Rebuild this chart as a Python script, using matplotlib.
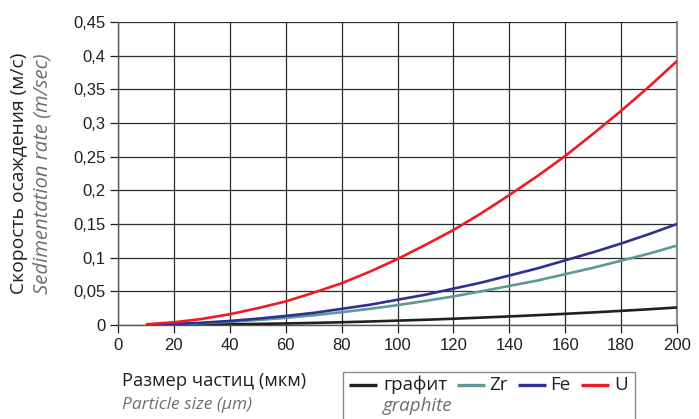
import matplotlib
matplotlib.use("Agg")
import matplotlib.pyplot as plt
from matplotlib.lines import Line2D
from matplotlib.patches import Rectangle
from matplotlib.ticker import FuncFormatter

size_um = [10, 20, 30, 40, 50, 60, 70, 80, 90, 100, 110, 120, 130, 140, 150, 160, 170, 180, 190, 200]
graphite = [0.0001, 0.0003, 0.0006, 0.001, 0.0016, 0.0023, 0.0031, 0.0041, 0.0052, 0.0065,
            0.0078, 0.0093, 0.011, 0.0127, 0.0146, 0.0166, 0.0187, 0.021, 0.0234, 0.026]
zr = [0.0003, 0.0012, 0.0027, 0.0047, 0.0074, 0.0106, 0.0145, 0.019, 0.024, 0.0295,
      0.0357, 0.0425, 0.05, 0.058, 0.066, 0.0755, 0.085, 0.0955, 0.106, 0.118]
fe = [0.0004, 0.0015, 0.0034, 0.006, 0.0094, 0.0135, 0.018, 0.024, 0.030, 0.0375,
      0.045, 0.054, 0.063, 0.0735, 0.084, 0.096, 0.108, 0.121, 0.135, 0.150]
u = [0.001, 0.004, 0.009, 0.016, 0.025, 0.035, 0.048, 0.062, 0.079, 0.098,
     0.119, 0.141, 0.166, 0.193, 0.221, 0.251, 0.284, 0.318, 0.354, 0.392]

series_names = ["графит", "Zr", "Fe", "U"]
series_vals = [graphite, zr, fe, u]
colors = ["#231F20", "#5E9A95", "#2E3192", "#ED1C24"]

x_ticks = [0, 20, 40, 60, 80, 100, 120, 140, 160, 180, 200]
y_ticks = [0, 0.05, 0.1, 0.15, 0.2, 0.25, 0.3, 0.35, 0.4, 0.45]

W, H = 699, 419
fig = plt.figure(figsize=(W / 100, H / 100), dpi=100)
ax = fig.add_axes([118 / W, 1 - 325 / H, (677 - 118) / W, (325 - 22) / H])

for vals, c in zip(series_vals, colors):
    ax.plot(size_um, vals, color=c, lw=1.9, solid_capstyle="butt", zorder=3)

ax.set_xlim(0, 200)
ax.set_ylim(0, 0.45)
ax.set_xticks(x_ticks)
ax.set_yticks(y_ticks)
fmt = FuncFormatter(lambda v, p: ("%g" % round(v, 2)).replace(".", ","))
ax.yaxis.set_major_formatter(fmt)
ax.grid(True, color="#2b2b2b", lw=0.9, zorder=1)
ax.tick_params(axis="both", labelsize=12, colors="#231F20", length=6, width=0.9,
               direction="out")
ax.tick_params(axis="x", pad=3)
ax.tick_params(axis="y", pad=3)
tick_font = "Liberation Sans"
for lab in ax.get_xticklabels() + ax.get_yticklabels():
    lab.set_fontfamily(tick_font)
for s in ["left", "bottom"]:
    ax.spines[s].set_color("#555555")
    ax.spines[s].set_linewidth(1.0)
ax.spines["right"].set_color("#8a8a8a")
ax.spines["right"].set_linewidth(1.5)
ax.spines["top"].set_visible(False)

lab_font = "Open Sans"
yc = 1 - 173.5 / H
# y label
fig.text(19 / W, yc, "Скорость осаждения (м/с)", rotation=90, va="center",
         ha="center", fontsize=13.9, color="#231F20", family=lab_font)
fig.text(42.5 / W, yc, "Sedimentation rate (m/sec)", rotation=90, va="center",
         ha="center", fontsize=14.6, color="#6d6e71", style="italic", family=lab_font)
# x label
fig.text(122 / W, 1 - 381 / H, "Размер частиц (мкм)", va="center", ha="left",
         fontsize=13.2, color="#231F20", family=lab_font)
fig.text(122 / W, 1 - 405 / H, "Particle size (μm)", va="center", ha="left",
         fontsize=12.5, color="#6d6e71", style="italic", family=lab_font)

# legend (manual)
fig.patches.append(Rectangle((343 / W, -0.01), (635 - 343) / W, (419 - 372) / H + 0.01,
                             transform=fig.transFigure, fill=False,
                             edgecolor="#8a8a8a", lw=1.0))
leg_line_x = [349, 457, 518, 581]
leg_text_x = [383, 489, 550, 614]
ly = 1 - 385 / H
for lx, tx, name, c in zip(leg_line_x, leg_text_x, series_names, colors):
    fig.lines.append(Line2D([lx / W, (lx + 28) / W], [ly, ly], transform=fig.transFigure,
                            color=c, lw=2.4, solid_capstyle="butt"))
    fig.text(tx / W, ly, name, va="center", ha="left", fontsize=13.5,
             color="#231F20", family=lab_font)
fig.text(383 / W, 1 - 406 / H, "graphite", va="center", ha="left", fontsize=13.5,
         color="#6d6e71", style="italic", family=lab_font)

fig.savefig("out.png", dpi=100)
